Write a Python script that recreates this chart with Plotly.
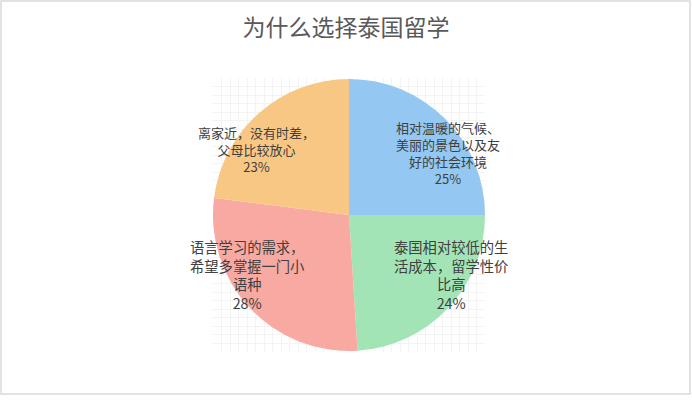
import math
import plotly.graph_objects as go

reasons = [
    "相对温暖的气候、<br>美丽的景色以及友<br>好的社会环境",
    "泰国相对较低的生<br>活成本，留学性价<br>比高",
    "语言学习的需求，<br>希望多掌握一门小<br>语种",
    "离家近，没有时差，<br>父母比较放心",
]
shares = [25, 24, 28, 23]
colors = ["#94c8f2", "#a3e4b6", "#f8a9a1", "#f9c784"]
label_sizes = [13, 14.3, 14.3, 13]

W, H = 692, 404
# pie box (pixels) -> paper coords
px0, px1, py0, py1 = 213, 485, 78, 352
dom_x = [px0 / W, px1 / W]
dom_y = [1 - py1 / H, 1 - py0 / H]
cx, cy = (px0 + px1) / 2, (py0 + py1) / 2
r = (px1 - px0) / 2

fig = go.Figure()

# faint grid behind the pie
fig.add_trace(go.Scatter(x=[0, 32], y=[0, 32], mode="markers",
                         marker=dict(opacity=0), hoverinfo="skip", showlegend=False))

fig.add_trace(go.Pie(
    labels=reasons,
    values=shares,
    sort=False,
    direction="clockwise",
    rotation=0,
    marker=dict(colors=colors, line=dict(width=0)),
    textinfo="none",
    domain=dict(x=dom_x, y=dom_y),
    showlegend=False,
    hoverinfo="label+percent",
))

# data labels, placed like a "best fit" label from each slice's mid angle
total = sum(shares)
acc = 0
for lab, v, fs in zip(reasons, shares, label_sizes):
    mid = (acc + v / 2) / total * 2 * math.pi
    acc += v
    x = cx + r * 1.03 * math.sin(mid)
    y = cy - r * 0.64 * math.cos(mid)
    fig.add_annotation(x=x / W, y=1 - y / H, xref="paper", yref="paper",
                       xanchor="center", yanchor="middle",
                       text=f"{lab}<br>{round(v / total * 100)}%", showarrow=False,
                       align="center",
                       font=dict(family="Noto Sans CJK SC", size=fs, color="#404040"))

fig.update_layout(
    width=W, height=H,
    margin=dict(l=0, r=0, t=0, b=0),
    paper_bgcolor="white",
    plot_bgcolor="rgba(0,0,0,0)",
    title=dict(text="为什么选择泰国留学", x=0.5, xanchor="center", y=1 - 28 / H, yanchor="middle",
               font=dict(family="Noto Sans CJK SC", size=23, color="#595959")),
    xaxis=dict(domain=dom_x, range=[0, 32], dtick=1, showgrid=True, gridcolor="#f3f3f3",
               zeroline=False, showticklabels=False, showline=False, fixedrange=True),
    yaxis=dict(domain=dom_y, range=[0, 32], dtick=1, showgrid=True, gridcolor="#f3f3f3",
               zeroline=False, showticklabels=False, showline=False, fixedrange=True),
    shapes=[dict(type="rect", xref="paper", yref="paper",
                 x0=1 / W, y0=1 - 394 / H, x1=690 / W, y1=1 - 1 / H,
                 line=dict(color="#d9d9d9", width=1.5))],
)

fig.write_html("out.html", config={"displayModeBar": False},
               post_script="document.body.style.margin='0';")
